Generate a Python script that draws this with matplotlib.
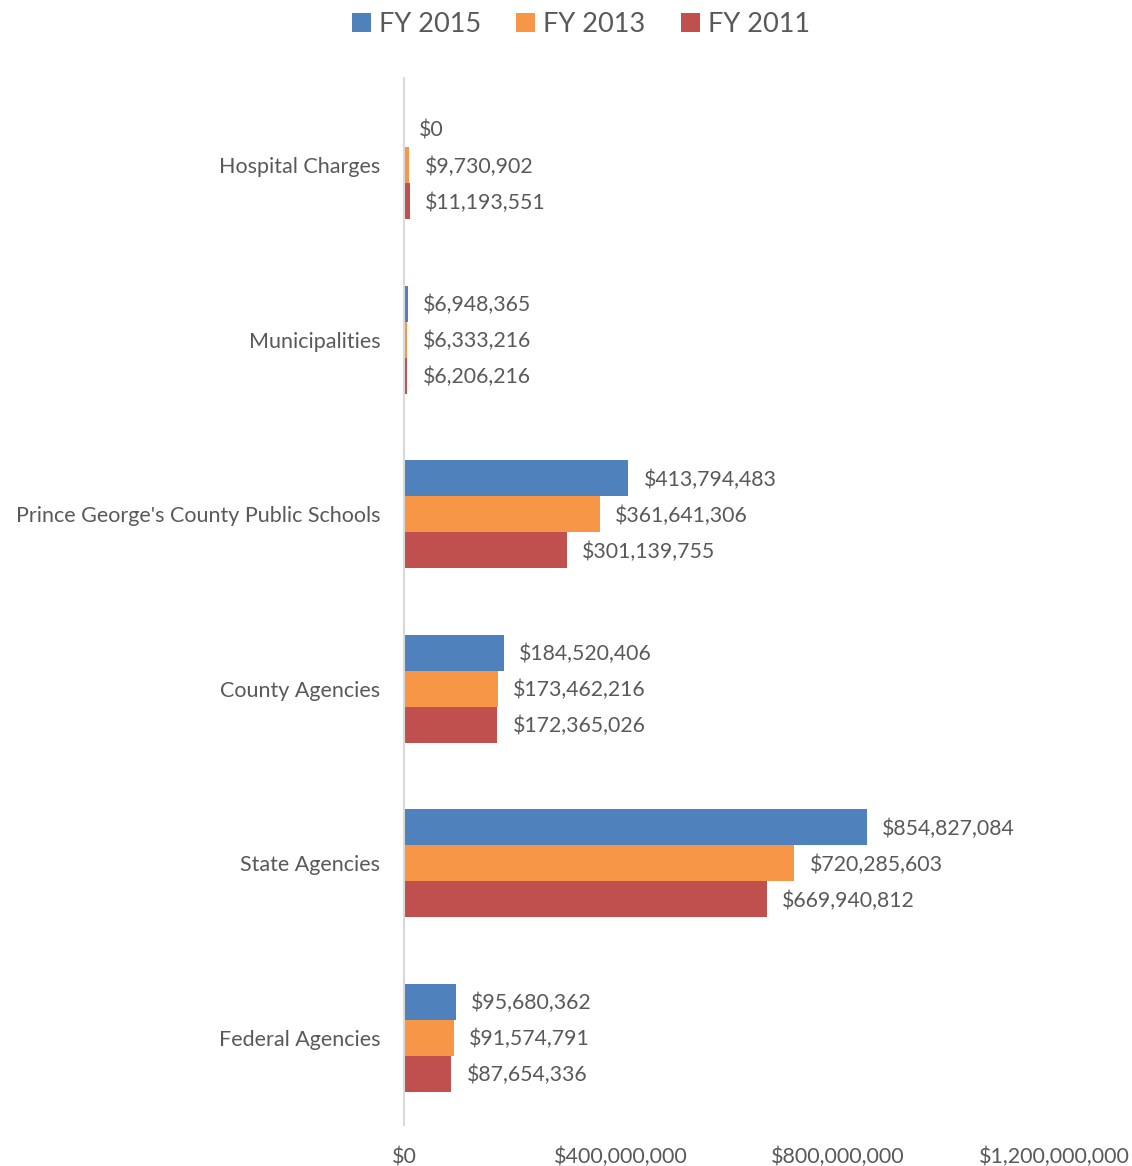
import numpy as np
import matplotlib.pyplot as plt
from matplotlib.ticker import FuncFormatter

# Spending by recipient group, three fiscal years (dollars)
categories = ["Federal Agencies", "State Agencies", "County Agencies",
              "Prince George's County Public Schools", "Municipalities",
              "Hospital Charges"]
fy2015 = [95680362, 854827084, 184520406, 413794483, 6948365, 0]
fy2013 = [91574791, 720285603, 173462216, 361641306, 6333216, 9730902]
fy2011 = [87654336, 669940812, 172365026, 301139755, 6206216, 11193551]

series = [("FY 2015", fy2015, "#4F81BD"),
          ("FY 2013", fy2013, "#F79646"),
          ("FY 2011", fy2011, "#C0504D")]

plt.rcParams['font.family'] = ['Lato', 'DejaVu Sans']
text_color = "#595959"

fig = plt.figure(figsize=(11.32, 11.66), dpi=100)
ax = fig.add_axes([0.3569, 0.0352, 0.5742, 0.898])

y = np.arange(len(categories))
bar_h = 0.206
offsets = [bar_h, 0, -bar_h]

handles = []
for (name, vals, color), off in zip(series, offsets):
    bars = ax.barh(y + off, vals, height=bar_h, color=color, label=name)
    handles.append(bars)
    for yi, v in zip(y, vals):
        ax.annotate(f"${v:,.0f}", xy=(v, yi + off), xytext=(11, -1),
                    textcoords="offset points", va="center", ha="left",
                    fontsize=15.3, color=text_color)

ax.set_xlim(0, 1200000000)
ax.set_ylim(-0.5, len(categories) - 0.5)
ax.set_xticks([0, 400000000, 800000000, 1200000000])
ax.xaxis.set_major_formatter(FuncFormatter(lambda v, p: f"${v:,.0f}"))
ax.set_yticks(y)
ax.set_yticklabels(categories)
ax.tick_params(axis="both", length=0, colors=text_color, labelsize=15.5)
ax.tick_params(axis="x", pad=16)
ax.tick_params(axis="y", pad=17)

for side in ["top", "right", "bottom"]:
    ax.spines[side].set_visible(False)
ax.spines["left"].set_color("#D9D9D9")
ax.spines["left"].set_linewidth(1.5)

leg = fig.legend(handles=handles, loc="upper center", bbox_to_anchor=(0.513, 1.011),
                 ncol=3, frameon=False, fontsize=19.5, handlelength=0.7,
                 handleheight=0.7, handletextpad=0.3, columnspacing=1.3)
for t in leg.get_texts():
    t.set_color(text_color)

fig.savefig("out.png", dpi=100)
